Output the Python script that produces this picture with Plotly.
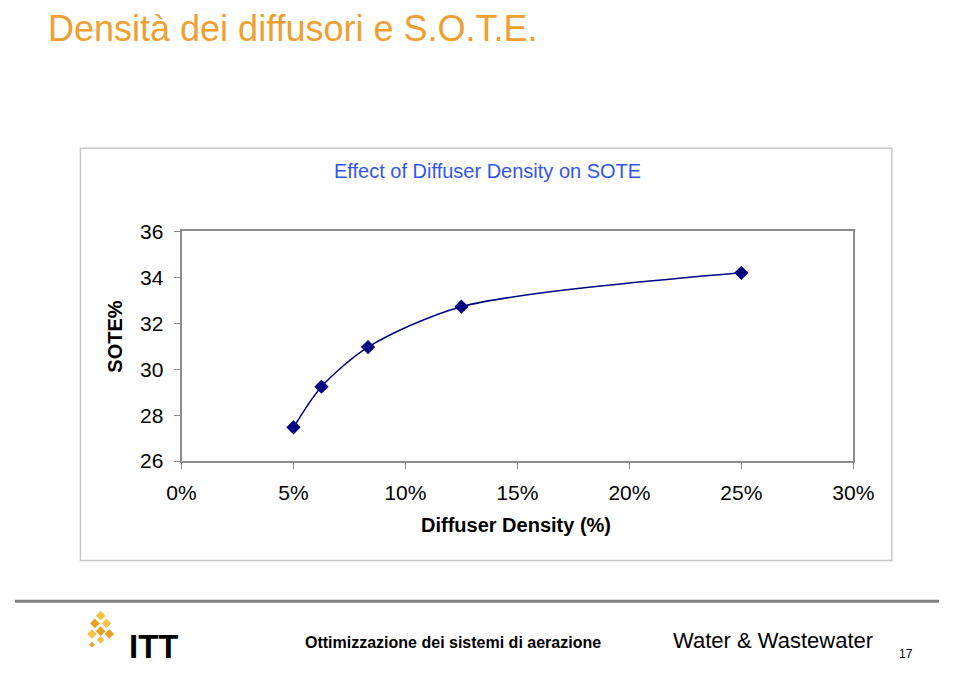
import plotly.graph_objects as go

# Data
density = [0.05, 0.0625, 0.0833, 0.125, 0.25]
sote = [27.47, 29.24, 30.96, 32.72, 34.19]
x_ticks = [0, 0.05, 0.10, 0.15, 0.20, 0.25, 0.30]
x_ticklabels = ["0%", "5%", "10%", "15%", "20%", "25%", "30%"]
y_ticks = [26, 28, 30, 32, 34, 36]

W, H = 960, 674
def px(x):
    return x / W
def py(y):
    return 1 - y / H

FONT = "Liberation Sans, Arial, sans-serif"
NARROW = "Liberation Sans Narrow, Arial Narrow, Liberation Sans, Arial, sans-serif"

fig = go.Figure()
fig.add_trace(go.Scatter(
    x=density, y=sote, mode="lines+markers",
    line=dict(color="#000080", width=1.5, shape="spline", smoothing=0.8),
    marker=dict(symbol="diamond", size=11, color="#000080"),
    showlegend=False, hoverinfo="x+y",
))

fig.update_layout(
    width=W, height=H,
    margin=dict(l=0, r=0, t=0, b=0),
    paper_bgcolor="white", plot_bgcolor="white",
    xaxis=dict(
        domain=[px(173), px(871)], range=[0, 0.30],
        tickvals=x_ticks, ticktext=x_ticklabels,
        showgrid=False, zeroline=False,
        showline=True, linecolor="#8c8c8c", linewidth=2, mirror=True,
        ticks="outside", ticklen=6, tickcolor="#8c8c8c", tickwidth=1,
        tickfont=dict(family=FONT, size=21, color="black"),
        ticklabelstandoff=6,
    ),
    yaxis=dict(
        domain=[py(465), py(227)], range=[26, 36],
        tickvals=y_ticks,
        showgrid=False, zeroline=False,
        showline=True, linecolor="#8c8c8c", linewidth=2, mirror=True,
        ticks="outside", ticklen=6, tickcolor="#8c8c8c", tickwidth=1,
        tickfont=dict(family=FONT, size=21, color="black"),
        ticklabelstandoff=6,
    ),
)

shapes = [
    dict(type="rect", xref="paper", yref="paper",
         x0=px(68), x1=px(911), y0=py(568), y1=py(141),
         line=dict(color="#c8c8c8", width=1.5), layer="below"),
    dict(type="line", xref="paper", yref="paper",
         x0=0, x1=1, y0=py(610), y1=py(610),
         line=dict(color="#808080", width=3)),
]

def diamond(cx, cy, r, color):
    return dict(type="path", xref="paper", yref="paper",
                path=f"M {px(cx-r)},{py(cy)} L {px(cx)},{py(cy-r)} L {px(cx+r)},{py(cy)} L {px(cx)},{py(cy+r)} Z",
                fillcolor=color, line=dict(width=0))
for cx, cy, r, c in [(89, 625, 5, "#f5c242"), (83, 633, 5, "#e8a020"), (95, 633, 5, "#f5c242"),
                     (89, 641, 5, "#e8a020"), (80, 644, 5, "#f5c242"), (98, 644, 5, "#e8a020"),
                     (89, 650, 4, "#f5c242"), (80, 655, 3, "#e8a020")]:
    shapes.append(diamond(cx, cy, r, c))
fig.update_layout(shapes=shapes)

ann = [
    dict(text="Densità dei diffusori e S.O.T.E.", x=px(32), y=py(17),
         xanchor="left", yanchor="middle",
         font=dict(family=FONT, size=36, color="#F0A030")),
    dict(text="Effect of Diffuser Density on SOTE", x=px(491), y=py(165),
         xanchor="center", yanchor="middle",
         font=dict(family=NARROW, size=20, color="#3355EE")),
    dict(text="<b>SOTE%</b>", x=px(103), y=py(336), textangle=-90,
         xanchor="center", yanchor="middle",
         font=dict(family=FONT, size=20, color="black")),
    dict(text="<b>Diffuser Density (%)</b>", x=px(521), y=py(531),
         xanchor="center", yanchor="middle",
         font=dict(family=FONT, size=20, color="black")),
    dict(text="<b>ITT</b>", x=px(116), y=py(657),
         xanchor="left", yanchor="middle",
         font=dict(family=FONT, size=33, color="black")),
    dict(text="<b>Ottimizzazione dei sistemi di aerazione</b>", x=px(455), y=py(653),
         xanchor="center", yanchor="middle",
         font=dict(family=NARROW, size=16, color="black")),
    dict(text="Water &amp; Wastewater", x=px(788), y=py(651),
         xanchor="center", yanchor="middle",
         font=dict(family=FONT, size=22, color="black")),
    dict(text="17", x=px(926), y=py(665),
         xanchor="center", yanchor="middle",
         font=dict(family=FONT, size=12, color="black")),
]
for a in ann:
    a.update(xref="paper", yref="paper", showarrow=False)
fig.update_layout(annotations=ann)

# remove the default page margin so the 960x674 figure fills the window exactly
fix_margin = "document.body.style.margin='0';document.body.style.overflow='hidden';"
fig.write_html("out.html", post_script=fix_margin)
